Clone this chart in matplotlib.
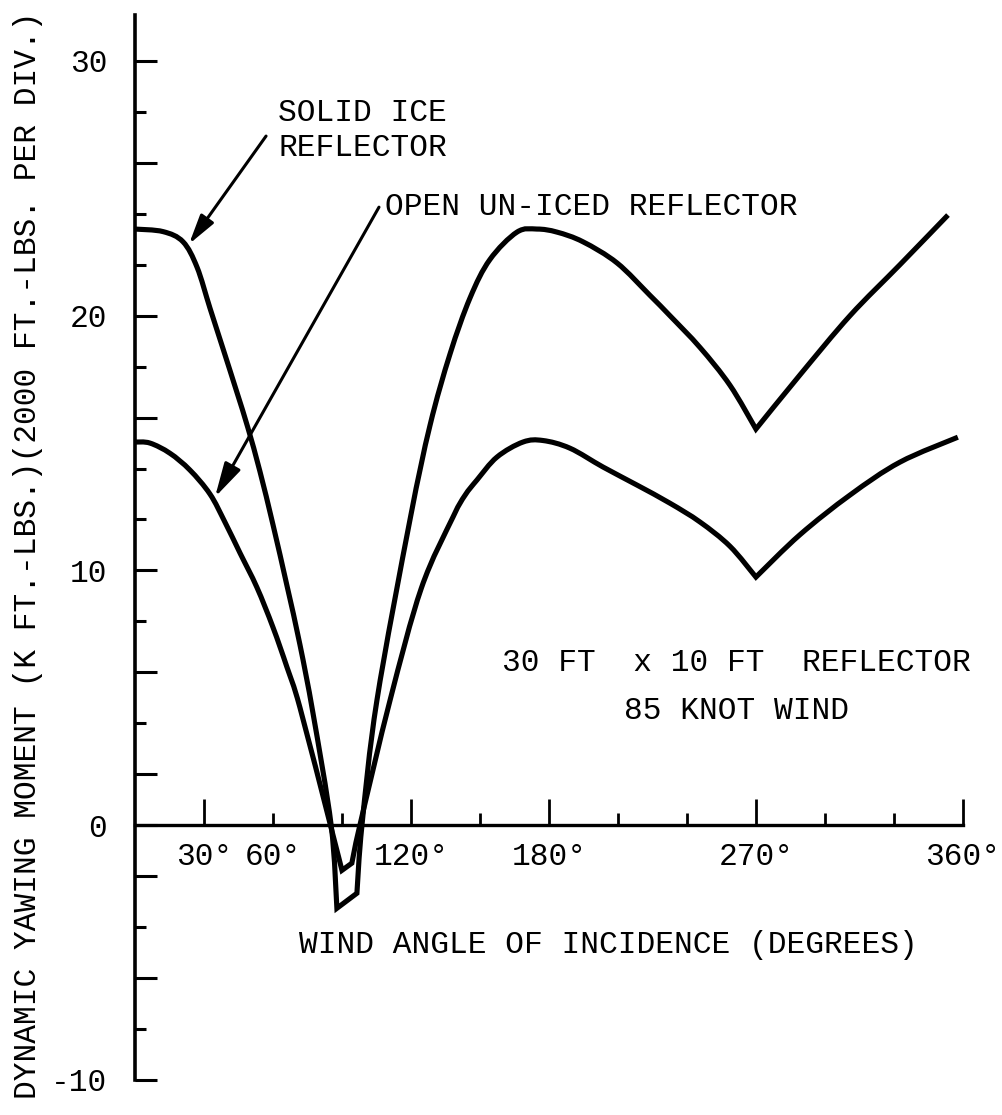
import numpy as np
import matplotlib
matplotlib.use("Agg")
import matplotlib.pyplot as plt
from matplotlib.path import Path
from matplotlib.patches import PathPatch

plt.rcParams['font.family'] = ['Liberation Mono', 'DejaVu Sans Mono']

# solid ice reflector (upper curve)
solid_deg = [0, 12.2, 20.9, 27.0, 32.6, 38.3, 44.3, 49.1, 54.3, 60.0, 66.1, 71.7, 77.4,
             85.3, 87.8, 96.5, 98.7, 105.2, 119.6, 128.3, 137.0, 145.7, 154.3, 166.1,
             174.8, 183.5, 194.8, 209.6, 223.9, 232.6, 245.7, 258.7, 270.0, 289.1,
             310.9, 332.6, 353.5]
solid_val = [23.4, 23.3, 22.9, 21.9, 20.3, 18.7, 17.0, 15.6, 13.9, 11.8, 9.4, 7.1, 4.4,
             0.0, -3.26, -2.67, 0.0, 4.9, 12.0, 15.7, 18.5, 20.7, 22.2, 23.28,
             23.4, 23.28, 22.9, 22.07, 20.8, 20.0, 18.75, 17.27, 15.55, 17.67,
             20.0, 22.0, 23.95]

# open un-iced reflector (lower curve)
open_deg = [0, 6.5, 15.2, 23.9, 32.6, 39.1, 45.7, 53.0, 60.0, 66.1, 71.7, 85.0, 90.0,
            94.3, 97.8, 110.9, 124.5, 138.3, 143.5, 148.7, 157.4, 168.7, 177.4, 189.1,
            203.5, 218.3, 232.6, 245.7, 258.7, 270.0, 289.1, 310.9, 332.6, 357.8]
open_val = [15.04, 15.0, 14.6, 13.94, 13.0, 11.9, 10.68, 9.34, 7.77, 6.2, 4.63, 0.0, -1.77,
            -1.49, 0.0, 4.9, 9.3, 12.1, 12.95, 13.55, 14.45, 15.04, 15.1, 14.8,
            14.06, 13.35, 12.64, 11.9, 10.95, 9.74, 11.4, 12.96, 14.25, 15.23]

# sharp corners (the dips and the 270 deg cusp)
solid_corners = [87.8, 96.5, 270.0]
open_corners = [90.0, 94.3, 270.0]

x_major = [30, 120, 180, 270, 360]
x_minor = [60, 90, 150, 210, 240, 300, 330]
x_major_labels = ["30°", "120°", "180°", "270°", "360°"]
x_minor_labels = ["60°", "", "", "", "", "", ""]

y_major = [30, 26, 20, 16, 10, 6, 2, 0, -2, -6, -10]
y_minor = [28, 24, 22, 18, 14, 12, 8, 4, -4, -8]


def smooth_path(xs, ys, corners):
    # catmull-rom through the read points, kept sharp at the corners
    pts = np.column_stack([xs, ys])
    verts = [pts[0]]
    codes = [Path.MOVETO]
    n = len(pts)
    for i in range(n - 1):
        p1, p2 = pts[i], pts[i + 1]
        p0 = p1 if (i == 0 or xs[i] in corners) else pts[i - 1]
        p3 = p2 if (i + 2 >= n or xs[i + 1] in corners) else pts[i + 2]
        c1 = p1 + (p2 - p0) / 6.0
        c2 = p2 - (p3 - p1) / 6.0
        verts += [c1, c2, p2]
        codes += [Path.CURVE4] * 3
    return Path(verts, codes)


fig = plt.figure(figsize=(10.02, 11.15), dpi=100)
ax = fig.add_axes([0.1347, 0.0314, 0.8263, 0.9551])

for xs, ys, cr in [(solid_deg, solid_val, solid_corners), (open_deg, open_val, open_corners)]:
    ax.add_patch(PathPatch(smooth_path(xs, ys, cr), facecolor='none', edgecolor='black',
                           lw=3.7, joinstyle='miter', capstyle='butt'))

ax.set_xlim(0, 360)
ax.set_ylim(-10, 31.8)

for s in ['top', 'right']:
    ax.spines[s].set_visible(False)
ax.spines['bottom'].set_position(('data', 0))
ax.spines['bottom'].set_linewidth(2.4)
ax.spines['left'].set_linewidth(2.6)

ax.set_xticks(x_major, x_major_labels)
ax.set_xticks(x_minor, x_minor_labels, minor=True)
ax.set_yticks(y_major, [str(v) if v % 10 == 0 else "" for v in y_major])
ax.set_yticks(y_minor, minor=True)

ax.tick_params(axis='x', which='major', direction='in', length=19, width=2, pad=12, labelsize=22.5)
ax.tick_params(axis='x', which='minor', direction='in', length=9, width=2, pad=12, labelsize=22.5)
ax.tick_params(axis='y', which='major', direction='in', length=16, width=2.2, pad=20, labelsize=22.5)
ax.tick_params(axis='y', which='minor', direction='in', length=8, width=2.2)

# annotations
ax.annotate('', xy=(23.5, 22.81), xytext=(57.0, 27.05),
            arrowprops=dict(arrowstyle='-|>,head_length=0.6,head_width=0.16',
                            mutation_scale=30, lw=2.2, color='black',
                            shrinkA=0, shrinkB=0))
ax.annotate('', xy=(34.8, 12.88), xytext=(106.1, 24.26),
            arrowprops=dict(arrowstyle='-|>,head_length=0.7,head_width=0.18',
                            mutation_scale=30, lw=2.2, color='black',
                            shrinkA=0, shrinkB=0))

ax.text(62.2, 27.95, "SOLID ICE", fontsize=22.5, ha='left', va='center')
ax.text(62.2, 26.6, "REFLECTOR", fontsize=22.5, ha='left', va='center')
ax.text(108.5, 24.26, "OPEN UN-ICED REFLECTOR", fontsize=22.5, ha='left', va='center')
ax.text(261.7, 6.36, "30 FT  x 10 FT  REFLECTOR", fontsize=22.5, ha='center', va='center')
ax.text(261.7, 4.5, "85 KNOT WIND", fontsize=22.5, ha='center', va='center')
ax.text(206, -4.7, "WIND ANGLE OF INCIDENCE (DEGREES)", fontsize=22.5, ha='center', va='center')

fig.text(28 / 1002, 1 - 555 / 1115,
         "DYNAMIC YAWING MOMENT (K FT.-LBS.)(2000 FT.-LBS. PER DIV.)",
         fontsize=22.5, rotation=90, ha='center', va='center')

fig.savefig("out.png", dpi=100)
